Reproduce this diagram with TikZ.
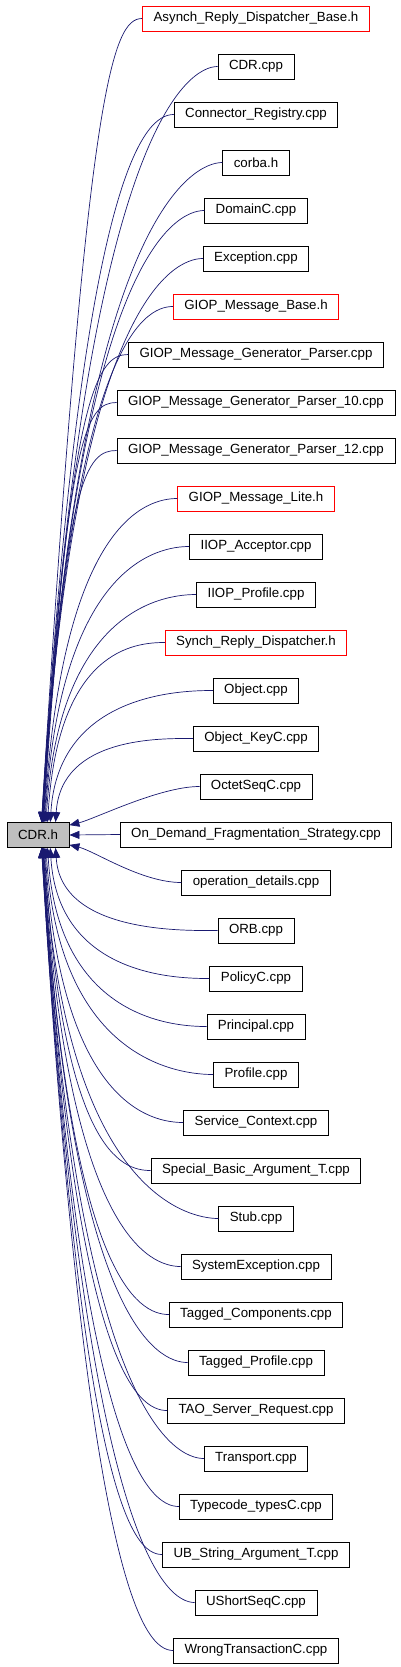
\documentclass[tikz,border=0pt]{standalone}
\usepackage{fontspec}
\setmainfont{Liberation Sans}
\usepackage{xcolor}
\usepackage{tikz}
\usetikzlibrary{arrows.meta,calc}
\definecolor{edgeblue}{HTML}{191970}
\definecolor{hdrgray}{HTML}{BFBFBF}

\begin{document}
\begin{tikzpicture}[>={Triangle[length=10pt,width=8pt]},x=1pt,y=-1pt,
   font=\fontsize{13.3}{15}\selectfont,
   filebox/.style={draw,line width=0.8pt,minimum height=25pt,inner xsep=11pt,inner ysep=0pt},
   hdrbox/.style={filebox,draw=red},
   cdrbox/.style={filebox,fill=hdrgray,minimum width=62pt,inner xsep=4pt},
   edge/.style={->,draw=edgeblue,line width=0.7pt}]
  \useasboundingbox (0,0) rectangle (400,1667);
  \node[cdrbox] (cdr) at (38,835) {CDR.h};
  % files that include CDR.h
  \foreach \t/\s [count=\i from 0] in {%
    Asynch\_Reply\_Dispatcher\_Base.h/hdrbox, CDR.cpp/filebox,
    Connector\_Registry.cpp/filebox, corba.h/filebox, DomainC.cpp/filebox,
    Exception.cpp/filebox, GIOP\_Message\_Base.h/hdrbox,
    GIOP\_Message\_Generator\_Parser.cpp/filebox,
    GIOP\_Message\_Generator\_Parser\_10.cpp/filebox,
    GIOP\_Message\_Generator\_Parser\_12.cpp/filebox,
    GIOP\_Message\_Lite.h/hdrbox, IIOP\_Acceptor.cpp/filebox,
    IIOP\_Profile.cpp/filebox, Synch\_Reply\_Dispatcher.h/hdrbox,
    Object.cpp/filebox, Object\_KeyC.cpp/filebox, OctetSeqC.cpp/filebox,
    On\_Demand\_Fragmentation\_Strategy.cpp/filebox,
    operation\_details.cpp/filebox, ORB.cpp/filebox, PolicyC.cpp/filebox,
    Principal.cpp/filebox, Profile.cpp/filebox, Service\_Context.cpp/filebox,
    Special\_Basic\_Argument\_T.cpp/filebox, Stub.cpp/filebox,
    SystemException.cpp/filebox, Tagged\_Components.cpp/filebox,
    Tagged\_Profile.cpp/filebox, TAO\_Server\_Request.cpp/filebox,
    Transport.cpp/filebox, Typecode\_typesC.cpp/filebox,
    UB\_String\_Argument\_T.cpp/filebox, UShortSeqC.cpp/filebox,
    WrongTransactionC.cpp/filebox}
    \node[\s] (f\i) at (256,18.5+48*\i) {\t};
  % include edges
  \foreach \i in {0,...,34}{
    \pgfmathtruncatemacro\d{abs(\i-17)}
    \pgfmathsetmacro\dy{48*(\i-17)}
    \pgfmathsetmacro\ady{abs(\dy)}
    \pgfmathsetmacro\xo{33+32/max(\d,1)}
    \ifnum\d>1
      \ifnum\i<17
        \draw[edge] (f\i.west) .. controls +(-30,0) and +(0.055*\ady,0.9*\dy) .. ([xshift=\xo pt]cdr.north west);
      \else
        \draw[edge] (f\i.west) .. controls +(-30,0) and +(0.055*\ady,0.9*\dy) .. ([xshift=\xo pt]cdr.south west);
      \fi
    \fi
  }
  \draw[edge] (f16.west) .. controls +(-40,0) and +(25,-6) .. ([yshift=-3pt]cdr.north east);
  \draw[edge] (f17.west) -- (cdr.east);
  \draw[edge] (f18.west) .. controls +(-40,0) and +(25,6) .. ([yshift=3pt]cdr.south east);
\end{tikzpicture}
\end{document}
